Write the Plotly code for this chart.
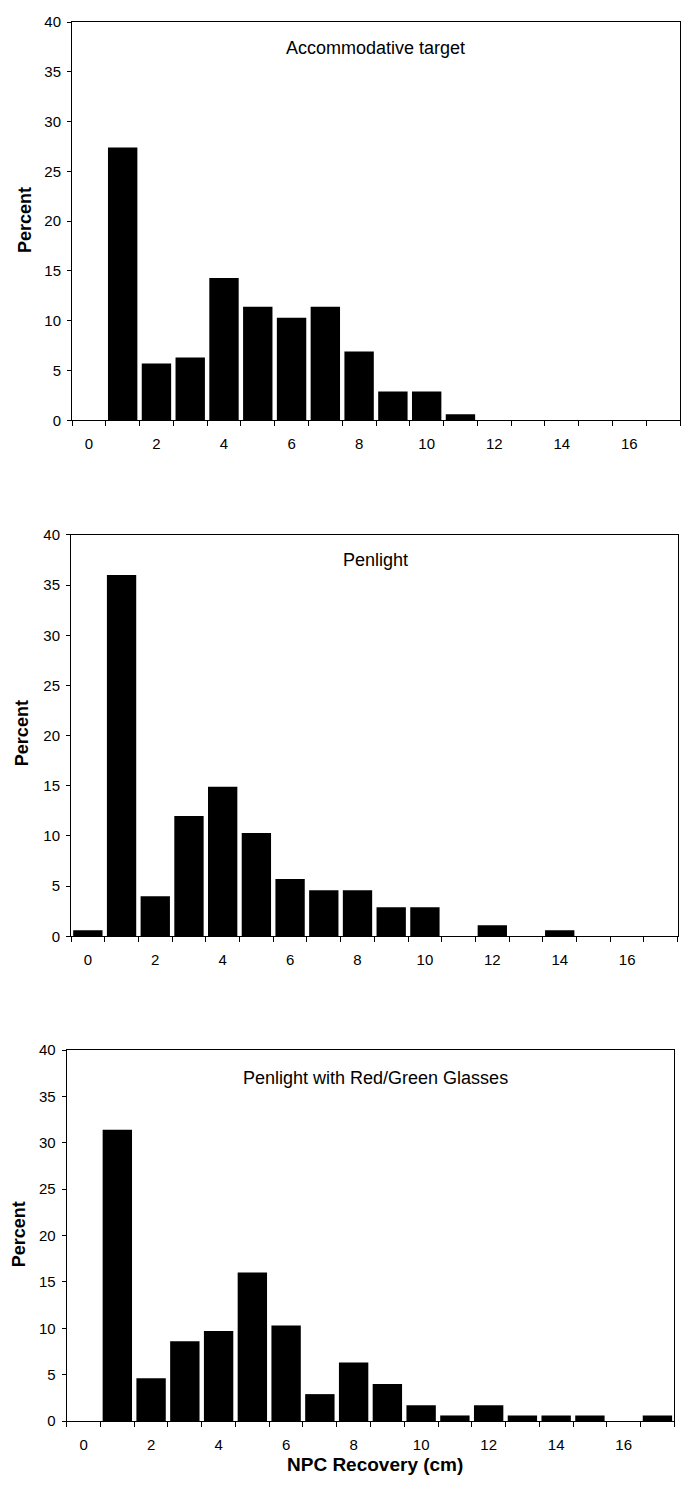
import plotly.graph_objects as go

# ---- data ----
categories = list(range(0, 18))
accommodative_target = [0, 27.4, 5.7, 6.3, 14.3, 11.4, 10.3, 11.4, 6.9, 2.9, 2.9, 0.6, 0, 0, 0, 0, 0, 0]
penlight = [0.6, 36.0, 4.0, 12.0, 14.9, 10.3, 5.7, 4.6, 4.6, 2.9, 2.9, 0, 1.1, 0, 0.6, 0, 0, 0]
penlight_red_green = [0, 31.4, 4.6, 8.6, 9.7, 16.0, 10.3, 2.9, 6.3, 4.0, 1.7, 0.6, 1.7, 0.6, 0.6, 0.6, 0, 0.6]
panel_titles = ["Accommodative target", "Penlight", "Penlight with Red/Green Glasses"]
x_tick_values = [0, 2, 4, 6, 8, 10, 12, 14, 16]
x_tick_labels = ["0", "2", "4", "6", "8", "10", "12", "14", "16"]
y_tick_values = [0, 5, 10, 15, 20, 25, 30, 35, 40]
y_axis_title = "Percent"
x_axis_title = "NPC Recovery (cm)"

W, H = 691, 1492
FONT = "Liberation Sans, Arial, Helvetica, sans-serif"

def px(x):
    return x / W

def py(y):
    return 1 - y / H

# pixel boxes of the three plot areas: (left, right, top, bottom)
boxes = [
    (72, 680, 13.3, 416),
    (71, 677.7, 532, 938),
    (66.7, 674.3, 1053, 1428.3),
]
title_pos = [(375, 39), (375, 557), (375, 1081)]
ytitle_pos = [(24.5, 213), (21.5, 733), (18.5, 1240)]

series = [accommodative_target, penlight, penlight_red_green]

fig = go.Figure()
layout = dict(
    width=W, height=H,
    margin=dict(l=0, r=0, t=0, b=0),
    paper_bgcolor="white", plot_bgcolor="white",
    showlegend=False,
    bargap=0.13,
    font=dict(family=FONT, color="black", size=15),
)
annotations = []
for i, (vals, box) in enumerate(zip(series, boxes)):
    n = "" if i == 0 else str(i + 1)
    xa, ya = "x" + n, "y" + n
    fig.add_trace(go.Bar(x=categories, y=vals, xaxis=xa, yaxis=ya,
                         marker=dict(color="black", line=dict(width=0)),
                         width=0.87))
    l, r, t, b = box
    layout["xaxis" + n] = dict(
        domain=[px(l), px(r)], anchor=ya, range=[-0.5, 17.5],
        tickmode="array", tickvals=x_tick_values, ticktext=x_tick_labels,
        ticks="", ticklabelstandoff=10,
        minor=dict(ticks="outside", tick0=0.5, dtick=1, ticklen=5,
                   tickcolor="black", tickwidth=1, showgrid=False),
        showline=True, mirror=True, linecolor="black", linewidth=1,
        showgrid=False, zeroline=False,
        tickfont=dict(size=15, family=FONT),
    )
    layout["yaxis" + n] = dict(
        domain=[py(b), py(t)], anchor=xa, range=[0, 40],
        tickmode="array", tickvals=y_tick_values,
        ticks="outside", ticklen=4, tickcolor="black",
        ticklabelstandoff=3,
        showline=True, mirror=True, linecolor="black", linewidth=1,
        showgrid=False, zeroline=False,
        tickfont=dict(size=15, family=FONT),
    )
    tx, ty = title_pos[i]
    annotations.append(dict(x=px(tx), y=py(ty), xref="paper", yref="paper",
                            text=panel_titles[i], showarrow=False,
                            xanchor="center", yanchor="middle",
                            font=dict(size=18, family=FONT)))
    yx, yy = ytitle_pos[i]
    annotations.append(dict(x=px(yx), y=py(yy), xref="paper", yref="paper",
                            text="<b>" + y_axis_title + "</b>", showarrow=False,
                            textangle=-90, xanchor="center", yanchor="middle",
                            font=dict(size=18, family=FONT)))

annotations.append(dict(x=px(375), y=py(1472), xref="paper", yref="paper",
                        text="<b>" + x_axis_title + "</b>", showarrow=False,
                        xanchor="center", yanchor="middle",
                        font=dict(size=19, family=FONT)))
layout["annotations"] = annotations
fig.update_layout(**layout)
fig.write_html(
    "out.html",
    config={"displayModeBar": False},
    post_script="document.body.style.margin='0';document.body.style.overflow='hidden';",
)
